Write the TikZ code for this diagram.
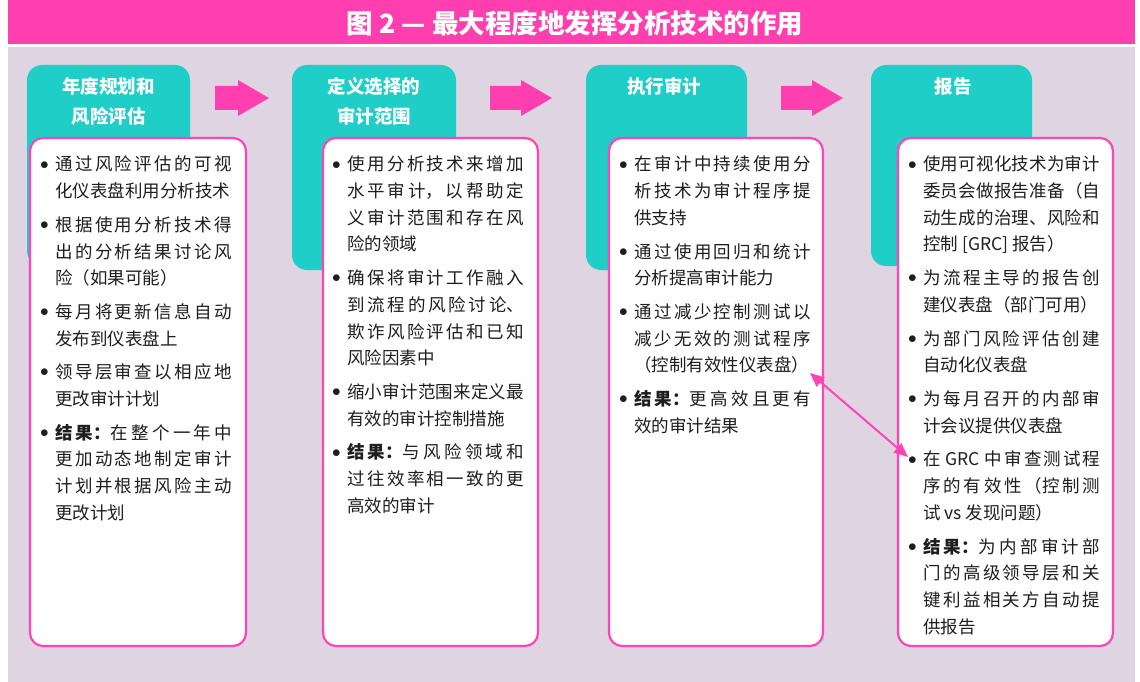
\documentclass[tikz,border=0pt]{standalone}
\usepackage{fontspec}
\setmainfont{Noto Sans CJK SC}
\usetikzlibrary{arrows.meta}
\XeTeXlinebreaklocale "zh"
\XeTeXlinebreakskip = 0pt plus 4pt
\tolerance=9000
\definecolor{titlepink}{HTML}{FF3FAF}
\definecolor{boxpink}{HTML}{FF44B6}
\definecolor{tealc}{HTML}{20CEC8}
\definecolor{lav}{HTML}{DED4E2}
\definecolor{ink}{HTML}{1E1E1E}
\newcommand{\firstitm}{\par\leftskip=15pt\relax\noindent\hspace*{-15pt}\makebox[15pt][l]{\raisebox{1.8pt}{$\bullet$}}\rule{0pt}{16pt}}
\newcommand{\itm}{\par\vspace{7pt}\firstitm}
\newcommand{\res}{\textbf{结果：}}
\newcommand{\pinkarrow}[3]{\fill[titlepink] (#1,86) -- (#2,86) -- (#2,80) -- (#3,98) -- (#2,116) -- (#2,110) -- (#1,110) -- cycle;}
\tikzset{
  titletext/.style={inner sep=0pt, text=white, font=\fontsize{26.5}{30}\selectfont\bfseries},
  tabtext/.style={anchor=north, inner sep=0pt, align=center, text=white, font=\fontsize{18.5}{30}\selectfont\bfseries},
  tabbox/.style={fill=tealc, rounded corners=15pt},
  whitebox/.style={fill=white, draw=boxpink, line width=2.2pt, rounded corners=13pt},
  listtext/.style={anchor=north west, inner sep=0pt, text width=192pt, align=justify, text=ink, font=\fontsize{17.5}{26.7}\selectfont},
  dblarrow/.style={draw=boxpink, line width=2pt, {Triangle[length=14pt,width=12pt]}-{Triangle[length=14pt,width=12pt]}}
}
\begin{document}
\begin{tikzpicture}[x=1pt,y=-1pt]
\useasboundingbox (0,0) rectangle (1140,682);
\fill[white] (0,0) rectangle (1140,682);
\fill[titlepink] (8,0) rectangle (1135,44);
\fill[lav] (8,47) rectangle (1135,682);
\node[titletext] (title) at (575,23) {图 2 — 最大程度地发挥分析技术的作用};
% tabs
\fill[tabbox] (27,65) rectangle (190,266);
\fill[tabbox] (292,65) rectangle (456,270);
\fill[tabbox] (586,65) rectangle (747,270);
\fill[tabbox] (871,65) rectangle (1032,266);
\node[tabtext] (h1) at (108.5,77) {年度规划和\\风险评估};
\node[tabtext] (h2) at (374,77) {定义选择的\\审计范围};
\node[tabtext] (h3) at (664,77) {执行审计};
\node[tabtext] (h4) at (953,77) {报告};
% arrows between tabs
\pinkarrow{215}{238}{269}
\pinkarrow{490}{521}{552}
\pinkarrow{781}{812}{843}
% white boxes
\draw[whitebox] (30,138) rectangle (246,646);
\draw[whitebox] (323,138) rectangle (538,646);
\draw[whitebox] (609,138) rectangle (823,646);
\draw[whitebox] (898,138) rectangle (1113,646);
% texts
\node[listtext] (t1) at (40,144) {\firstitm 通过风险评估的可视\linebreak 化仪表盘利用分析技术
\itm 根据使用分析技术得\linebreak 出的分析结果讨论风\linebreak 险（如果可能）
\itm 每月将更新信息自动\linebreak 发布到仪表盘上
\itm 领导层审查以相应地\linebreak 更改审计计划
\itm \res 在整个一年中\linebreak 更加动态地制定审计\linebreak 计划并根据风险主动\linebreak 更改计划\par};
\node[listtext] (t2) at (332,144) {\firstitm 使用分析技术来增加\linebreak 水平审计，以帮助定\linebreak 义审计范围和存在风\linebreak 险的领域
\itm 确保将审计工作融入\linebreak 到流程的风险讨论、\linebreak 欺诈风险评估和已知\linebreak 风险因素中
\itm 缩小审计范围来定义最\linebreak 有效的审计控制措施
\itm \res 与风险领域和\linebreak 过往效率相一致的更\linebreak 高效的审计\par};
\node[listtext] (t3) at (619,144) {\firstitm 在审计中持续使用分\linebreak 析技术为审计程序提\linebreak 供支持
\itm 通过使用回归和统计\linebreak 分析提高审计能力
\itm 通过减少控制测试以\linebreak 减少无效的测试程序\linebreak （控制有效性仪表盘）
\itm \res 更高效且更有\linebreak 效的审计结果\par};
\node[listtext] (t4) at (908,144) {\firstitm 使用可视化技术为审计\linebreak 委员会做报告准备（自\linebreak 动生成的治理、风险和\linebreak 控制 [GRC] 报告）
\itm 为流程主导的报告创\linebreak 建仪表盘（部门可用）
\itm 为部门风险评估创建\linebreak 自动化仪表盘
\itm 为每月召开的内部审\linebreak 计会议提供仪表盘
\itm 在 GRC 中审查测试程\linebreak 序的有效性（控制测\linebreak 试 vs 发现问题）
\itm \res 为内部审计部\linebreak 门的高级领导层和关\linebreak 键利益相关方自动提\linebreak 供报告\par};
% link
\coordinate (c3) at (810,373);
\coordinate (c4) at (908,457);
\draw[dblarrow] (c3) -- (c4);
\end{tikzpicture}
\end{document}
